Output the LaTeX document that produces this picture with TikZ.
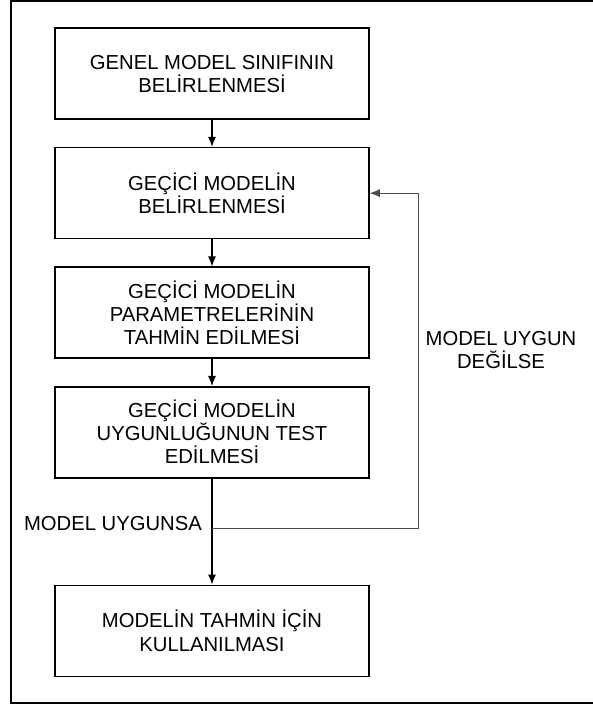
\documentclass[tikz,border=0pt]{standalone}
\usepackage{fontspec}
\setmainfont{Liberation Sans}
\usetikzlibrary{arrows,arrows.meta,positioning,calc}

\tikzset{
  adim/.style={draw,line width=1.1pt,minimum width=7.85cm,minimum height=2.275cm,
    align=center,font=\fontsize{14.4}{16.4}\selectfont},
  yazi/.style={font=\fontsize{14.4}{16.4}\selectfont,align=center},
  ok/.style={-{Latex[length=2.5mm,width=2mm]},line width=0.8pt},
  geri/.style={-{Latex[length=2.5mm,width=2mm]},line width=0.6pt,draw=black!70}
}

\begin{document}
\begin{tikzpicture}[node distance=0.675cm]
\useasboundingbox (0,0) rectangle (14.8,-17.65);
\draw[line width=1.4pt] (14.9,-0.03)--(0.28,-0.03)--(0.28,-17.57)--(14.9,-17.57);
\node[adim] (sinif) at (5.3,-1.84) {GENEL MODEL SINIFININ\\BELİRLENMESİ};
\node[adim,below=of sinif] (gecici) {GEÇİCİ MODELİN\\BELİRLENMESİ};
\node[adim,below=of gecici] (param) {GEÇİCİ MODELİN\\PARAMETRELERİNİN\\TAHMİN EDİLMESİ};
\node[adim,below=of param] (test) {GEÇİCİ MODELİN\\UYGUNLUĞUNUN TEST\\EDİLMESİ};
\node[adim,below=2.65cm of test] (tahmin) {MODELİN TAHMİN İÇİN\\KULLANILMASI};
\draw[ok] (sinif) -- (gecici);
\draw[ok] (gecici) -- (param);
\draw[ok] (param) -- (test);
\draw[ok] (test) -- (tahmin);
\coordinate (ayrim) at ($(test.south)!0.47!(tahmin.north)$);
\draw[geri] (ayrim) -- ++(5.15,0) coordinate (donus) |- (gecici.east);
\node[yazi,left=0.13cm of ayrim,yshift=0.12cm] (uygun) {MODEL UYGUNSA};
\node[yazi] (degil) at (12.525,-8.75) {MODEL UYGUN\\DEĞİLSE};
\end{tikzpicture}
\end{document}
